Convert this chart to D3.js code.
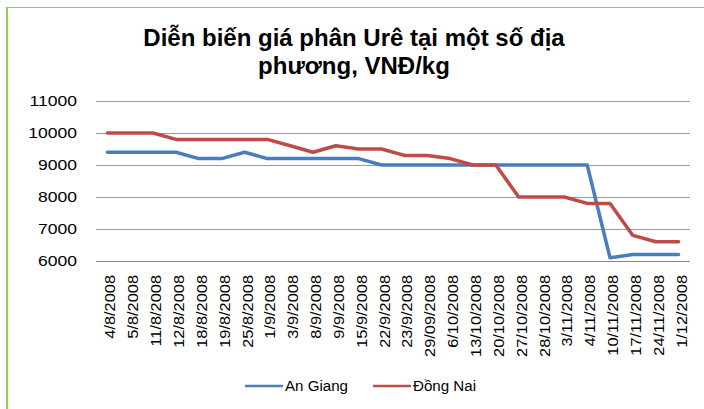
<!DOCTYPE html>
<html>
<head>
<meta charset="utf-8">
<script src="https://cdn.jsdelivr.net/npm/d3@7/dist/d3.min.js"></script>
<style>
  html, body { margin: 0; padding: 0; background: #fff; }
  svg { display: block; }
</style>
</head>
<body>
<svg id="chart"></svg>
<script>
// Giá phân Urê, VNĐ/kg
const DATES = [
  '4/8/2008', '5/8/2008', '11/8/2008', '12/8/2008', '18/8/2008', '19/8/2008',
  '25/8/2008', '1/9/2008', '3/9/2008', '8/9/2008', '9/9/2008', '15/9/2008',
  '22/9/2008', '23/9/2008', '29/09/2008', '6/10/2008', '13/10/2008', '20/10/2008',
  '27/10/2008', '28/10/2008', '3/11/2008', '4/11/2008', '10/11/2008', '17/11/2008',
  '24/11/2008', '1/12/2008'
];

const AN_GIANG = [
  9400, 9400, 9400, 9400, 9200, 9200, 9400, 9200, 9200, 9200, 9200, 9200,
  9000, 9000, 9000, 9000, 9000, 9000, 9000, 9000, 9000, 9000, 6100, 6200,
  6200, 6200
];

const DONG_NAI = [
  10000, 10000, 10000, 9800, 9800, 9800, 9800, 9800, 9600, 9400, 9600, 9500,
  9500, 9300, 9300, 9200, 9000, 9000, 8000, 8000, 8000, 7800, 7800, 6800,
  6600, 6600
];

const Y_TICKS = [6000, 7000, 8000, 9000, 10000, 11000];

const SERIES = [
  { name: 'An Giang', values: AN_GIANG, color: '#4a7ebb' },
  { name: 'Đồng Nai', values: DONG_NAI, color: '#be4b48' },
];

const W = 704, H = 409;
const plot = { left: 96, right: 690, top: 101, bottom: 261 };
const FONT = 'Liberation Sans, Arial, sans-serif';
const STRETCH = 1.17;

const svg = d3.select('#chart').attr('width', W).attr('height', H);

// green frame (left + top only)
svg.append('line')
  .attr('x1', 6).attr('x2', W).attr('y1', 7.5).attr('y2', 7.5)
  .attr('stroke', '#92d050').attr('stroke-width', 1);
svg.append('line')
  .attr('x1', 7).attr('x2', 7).attr('y1', 7).attr('y2', H)
  .attr('stroke', '#92d050').attr('stroke-width', 2);

// title
const title = svg.append('text')
  .attr('text-anchor', 'middle')
  .attr('font-family', FONT)
  .attr('font-weight', 'bold')
  .attr('font-size', 24)
  .attr('fill', '#000');
title.append('tspan').attr('x', 354).attr('y', 46).text('Diễn biến giá phân Urê tại một số địa');
title.append('tspan').attr('x', 354).attr('y', 74).text('phương, VNĐ/kg');

const x = d3.scaleBand().domain(DATES).range([plot.left, plot.right]);
const y = d3.scaleLinear().domain([6000, 11000]).range([plot.bottom, plot.top]);

// gridlines
svg.append('g')
  .selectAll('line')
  .data(Y_TICKS)
  .join('line')
  .attr('x1', plot.left).attr('x2', plot.right)
  .attr('y1', d => Math.round(y(d)) + 0.5)
  .attr('y2', d => Math.round(y(d)) + 0.5)
  .attr('stroke', d => d === 6000 ? '#868686' : '#9a9a9a')
  .attr('stroke-width', 1);

// y labels
svg.append('g')
  .selectAll('text')
  .data(Y_TICKS)
  .join('text')
  .attr('transform', d => `translate(77,${y(d)}) scale(${STRETCH},1)`)
  .attr('text-anchor', 'end')
  .attr('dy', '0.36em')
  .attr('font-family', FONT)
  .attr('font-size', 15)
  .attr('fill', '#000')
  .text(d => d);

// x labels
svg.append('g')
  .selectAll('text')
  .data(DATES)
  .join('text')
  .attr('transform', d => `translate(${x(d) + x.bandwidth() / 2 + 3},275) rotate(-90) scale(${STRETCH},1)`)
  .attr('text-anchor', 'end')
  .attr('dy', '0.36em')
  .attr('font-family', FONT)
  .attr('font-size', 14)
  .attr('fill', '#000')
  .text(d => d);

// lines
const line = d3.line()
  .x((d, i) => x(DATES[i]) + x.bandwidth() / 2)
  .y(d => y(d));

svg.append('g')
  .selectAll('path')
  .data(SERIES)
  .join('path')
  .attr('d', s => line(s.values))
  .attr('fill', 'none')
  .attr('stroke', s => s.color)
  .attr('stroke-width', 3.5)
  .attr('stroke-linejoin', 'round')
  .attr('stroke-linecap', 'round');

// legend
const legendPos = [245, 373];
const leg = svg.append('g')
  .selectAll('g')
  .data(SERIES)
  .join('g')
  .attr('transform', (s, i) => `translate(${legendPos[i]},386)`);
leg.append('line')
  .attr('x1', 0).attr('x2', 38)
  .attr('stroke', s => s.color)
  .attr('stroke-width', 2.5);
leg.append('text')
  .attr('transform', `translate(40,0) scale(1.08,1)`)
  .attr('dy', '0.36em')
  .attr('font-family', FONT)
  .attr('font-size', 14)
  .attr('fill', '#000')
  .text(s => s.name);
</script>
</body>
</html>
